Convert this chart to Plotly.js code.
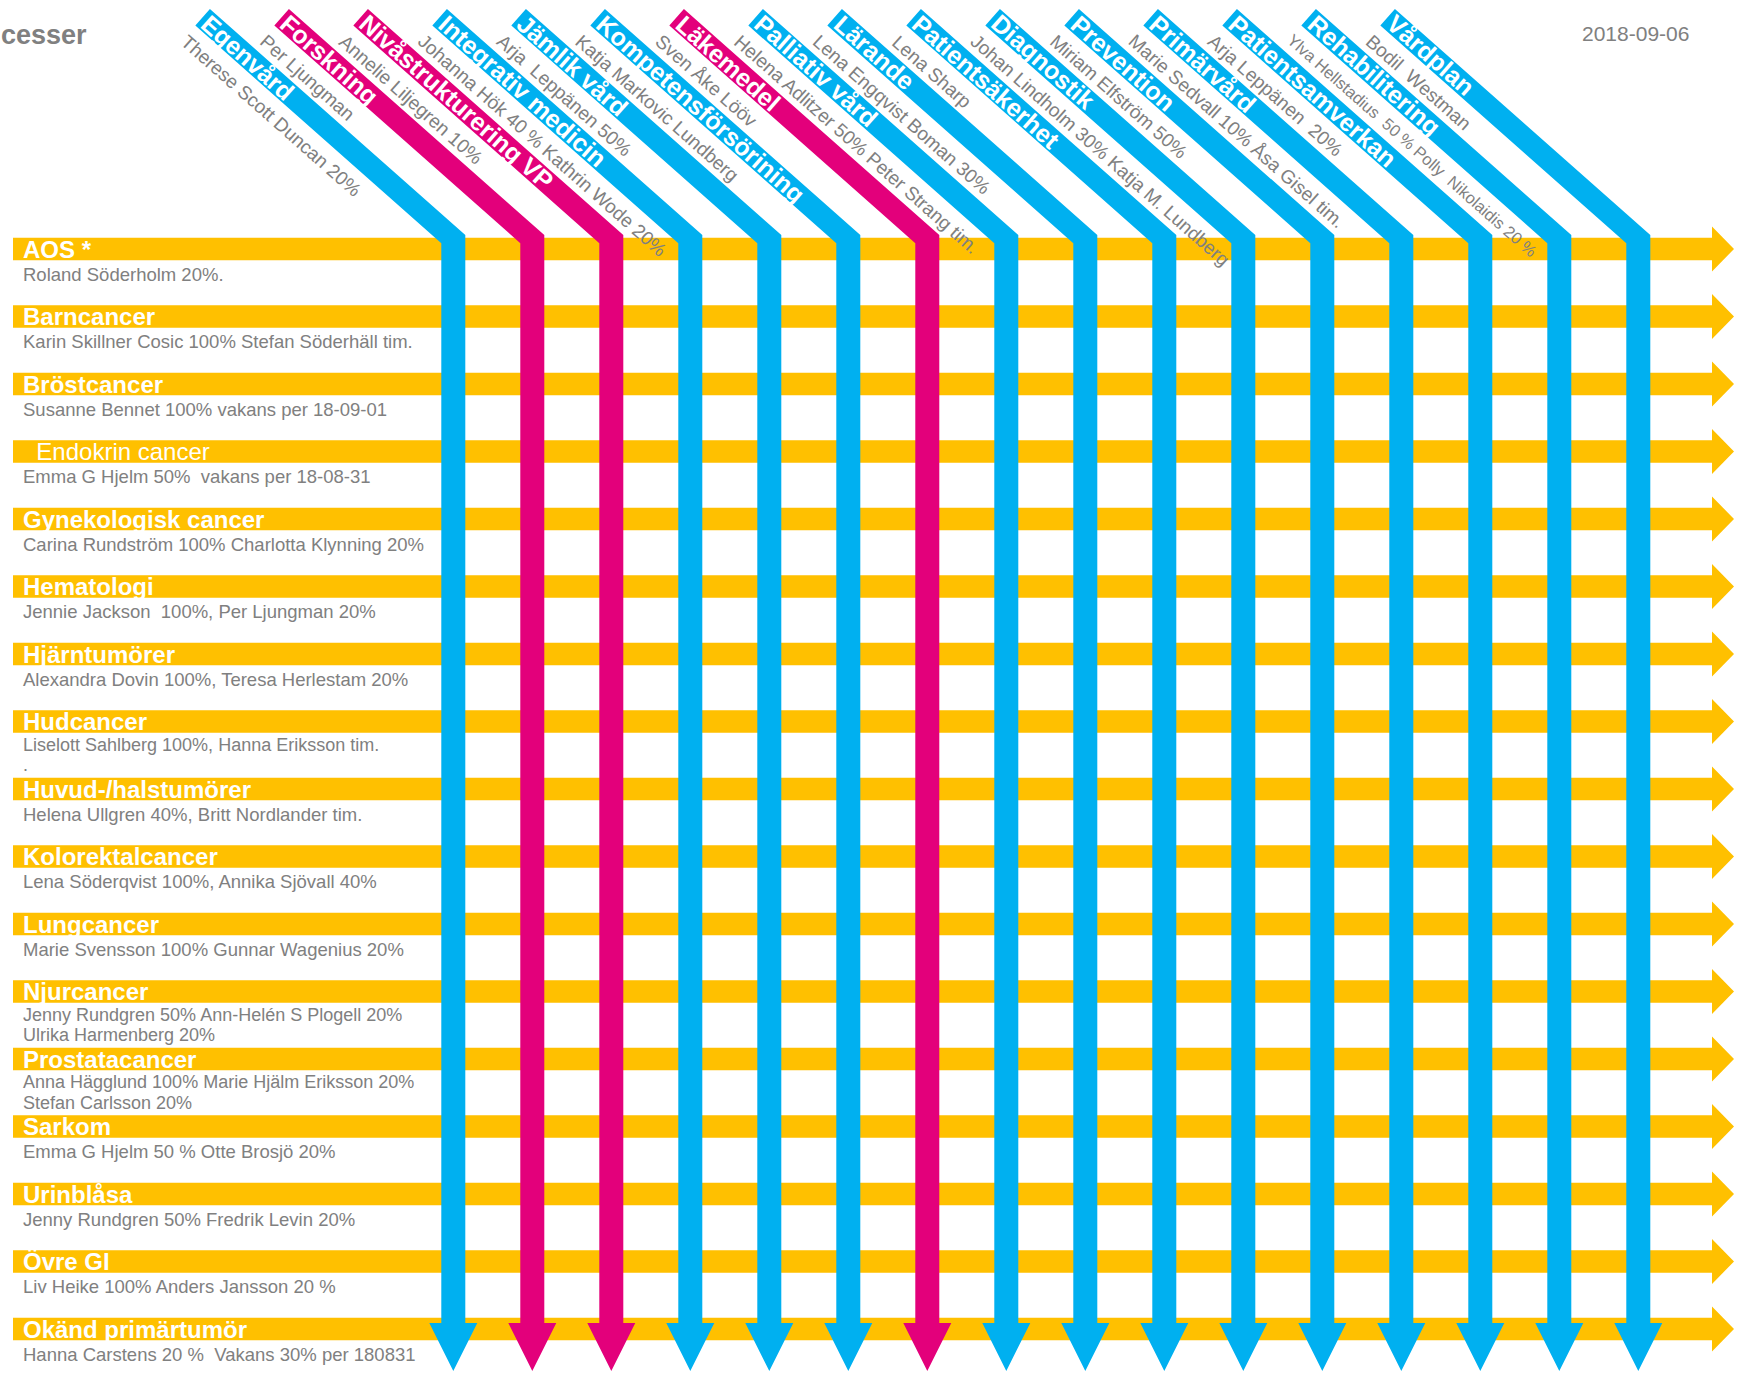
<!DOCTYPE html>
<html><head><meta charset="utf-8">
<script src="https://cdn.plot.ly/plotly-3.0.1.min.js"></script>
<style>html,body{margin:0;padding:0;background:#fff;overflow:hidden}</style>
</head><body><div id="chart"></div>
<script>
// ---------- DATA ----------
const rowNames = ["AOS *","Barncancer","Bröstcancer","\u00a0\u00a0Endokrin cancer","Gynekologisk cancer","Hematologi","Hjärntumörer","Hudcancer","Huvud-/halstumörer","Kolorektalcancer","Lungcancer","Njurcancer","Prostatacancer","Sarkom","Urinblåsa","Övre GI","Okänd primärtumör"];
const rowPeople = [
  ["Roland Söderholm 20%."],
  ["Karin Skillner Cosic 100% Stefan Söderhäll tim."],
  ["Susanne Bennet 100% vakans per 18-09-01"],
  ["Emma G Hjelm 50%\u00a0 vakans per 18-08-31"],
  ["Carina Rundström 100% Charlotta Klynning 20%"],
  ["Jennie Jackson\u00a0 100%, Per Ljungman 20%"],
  ["Alexandra Dovin 100%, Teresa Herlestam 20%"],
  ["Liselott Sahlberg 100%, Hanna Eriksson tim.", "."],
  ["Helena Ullgren 40%, Britt Nordlander tim."],
  ["Lena Söderqvist 100%, Annika Sjövall 40%"],
  ["Marie Svensson 100% Gunnar Wagenius 20%"],
  ["Jenny Rundgren 50% Ann-Helén S Plogell 20%", "Ulrika Harmenberg 20%"],
  ["Anna Hägglund 100% Marie Hjälm Eriksson 20%", "Stefan Carlsson 20%"],
  ["Emma G Hjelm 50 % Otte Brosjö 20%"],
  ["Jenny Rundgren 50% Fredrik Levin 20%"],
  ["Liv Heike 100% Anders Jansson 20 %"],
  ["Hanna Carstens 20 %\u00a0 Vakans 30% per 180831"]
];
const colNames = ["Egenvård","Forskning","Nivåstrukturering VP","Integrativ medicin","Jämlik vård","Kompetensförsörining","Läkemedel","Palliativ vård","Lärande","Patientsäkerhet","Diagnostik","Prevention","Primärvård","Patientsamverkan","Rehabilitering","Vårdplan"];
const colPeople = ["Therese Scott Duncan 20%","Per Ljungman","Annelie Liljegren 10%","Johanna Hök 40 % Kathrin Wode 20%","Arja\u00a0 Leppänen 50%","Katja Markovic Lundberg","Sven Åke Lööv","Helena Adlitzer 50% Peter Strang tim.","Lena Engqvist Boman 30%","Lena Sharp","Johan Lindholm 30% Katja M. Lundberg","Miriam Elfström 50%","Marie Sedvall 10% Åsa Gisel tim.","Arja Leppänen\u00a0 20%","Ylva Hellstadius\u00a0 50 % Polly\u00a0 Nikolaidis 20 %","Bodil\u00a0 Westman"];
const colKind = ["process","utveckling","utveckling","process","process","process","utveckling","process","process","process","process","process","process","process","process","process"];
const titleText = "cesser";
const dateText = "2018-09-06";

// ---------- STYLE / LAYOUT ----------
const W = 1739, H = 1375;
const X0 = 453.3, DX = 79;     // pixel of first column, pixels per column
const Y0 = 249, DY = 67.5;     // pixel of first row, pixels per row
const YELLOW = "#FFC000", GRAY = "#808080";
const kindColor = {process: "#00B0F0", utveckling: "#E3007B"};
const FONT = '"Liberation Sans", Arial, sans-serif';
const ox = p => p / DX, oy = p => p / DY;          // pixel offsets -> data units
const ax = p => (p - X0) / DX, ay = p => (p - Y0) / DY; // absolute pixel -> data
const TH = 41.5 * Math.PI / 180, C = Math.cos(TH), S = Math.sin(TH);
const Ld = 341, wd = 22, hv = 12;   // diagonal length, diagonal width, half vertical width

const cv = document.createElement('canvas').getContext('2d');
function tw(t, size, bold) { cv.font = (bold ? 'bold ' : '') + size + 'px "Liberation Sans"'; return cv.measureText(t).width; }

const shapes = [];
const annotations = [];
const lastRow = rowNames.length - 1;

// horizontal yellow arrows
rowNames.forEach((name, j) => {
  const L = ax(13), B = ax(1712), T = ax(1734), h = oy(11.25), hh = oy(22.5);
  shapes.push({type: 'path', xref: 'x', yref: 'y', layer: 'above',
    path: `M${L},${j-h} L${B},${j-h} L${B},${j-hh} L${T},${j} L${B},${j+hh} L${B},${j+h} L${L},${j+h} Z`,
    fillcolor: YELLOW, line: {width: 0}});
  annotations.push({x: ax(22), y: j, xref: 'x', yref: 'y', xanchor: 'left', yanchor: 'middle', showarrow: false,
    text: name, borderpad: 0, font: {family: FONT, size: 24, color: '#FFFFFF', weight: name.indexOf('Endokrin') >= 0 ? 400 : 700}});
  const multi = rowPeople[j].length > 1;
  rowPeople[j].forEach((line, k) => {
    const off = multi ? 23 + 20.5 * k : 25;
    annotations.push({x: ax(22), y: j + oy(off), xref: 'x', yref: 'y', xanchor: 'left', yanchor: 'middle', showarrow: false,
      text: line, borderpad: 0, font: {family: FONT, size: multi ? 18 : 18.5, color: GRAY}});
  });
});

// vertical process arrows with diagonal heads
colNames.forEach((name, i) => {
  const col = kindColor[colKind[i]];
  const yR = -14;
  const TR = [hv - Ld * C, yR - Ld * S];
  const TL = [TR[0] - wd * S, TR[1] + wd * C];
  const t = (-hv - TL[0]) / C;
  const inner = TL[1] + t * S;
  const base = oy(-6), tip = oy(42);
  const P = (px, py) => `${i + ox(px)},${py}`;
  const path = `M${P(TR[0], oy(TR[1]))} L${P(hv, oy(yR))} L${P(hv, lastRow + base)} L${P(24, lastRow + base)} ` +
    `L${P(0, lastRow + tip)} L${P(-24, lastRow + base)} L${P(-hv, lastRow + base)} L${P(-hv, oy(inner))} L${P(TL[0], oy(TL[1]))} Z`;
  shapes.push({type: 'path', xref: 'x', yref: 'y', layer: 'above', path: path, fillcolor: col, line: {width: 0}});

  // label on the bar
  const M = [TR[0] - (wd / 2) * S, TR[1] + (wd / 2) * C];
  const wl = tw(name, 25, true);
  const cl = [M[0] + C * (4 + wl / 2), M[1] + S * (4 + wl / 2)];
  annotations.push({x: i + ox(cl[0]), y: oy(cl[1]), xref: 'x', yref: 'y', xanchor: 'center', yanchor: 'middle',
    showarrow: false, textangle: 41.5, text: name, borderpad: 0,
    font: {family: FONT, size: 25, color: '#FFFFFF', weight: 700}});
  // person text beside the bar
  const ps = (i === 14) ? 16.5 : 19;
  const wg = tw(colPeople[i], ps, false);
  const perp = (i === 14) ? 27 : 28.5;
  const cg = [M[0] + C * (0 + wg / 2) - S * perp, M[1] + S * (0 + wg / 2) + C * perp];
  annotations.push({x: i + ox(cg[0]), y: oy(cg[1]), xref: 'x', yref: 'y', xanchor: 'center', yanchor: 'middle',
    showarrow: false, textangle: 41.5, text: colPeople[i], borderpad: 0,
    font: {family: FONT, size: ps, color: GRAY}});
});

annotations.push({x: 0, y: 1 - 35 / H, xref: 'paper', yref: 'paper', xanchor: 'left', yanchor: 'middle', showarrow: false,
  text: titleText, borderpad: 0, font: {family: FONT, size: 27, color: GRAY, weight: 700}});
annotations.push({x: 1581 / W, y: 1 - 33 / H, xref: 'paper', yref: 'paper', xanchor: 'left', yanchor: 'middle', showarrow: false,
  text: dateText, borderpad: 0, font: {family: FONT, size: 21, color: GRAY}});

const layout = {
  width: W, height: H, margin: {l: 0, r: 0, t: 0, b: 0, pad: 0},
  paper_bgcolor: '#FFFFFF', plot_bgcolor: '#FFFFFF', showlegend: false,
  xaxis: {range: [ax(0), ax(W)], visible: false, fixedrange: true},
  yaxis: {range: [ay(H), ay(0)], visible: false, fixedrange: true},
  shapes: shapes, annotations: annotations
};
Plotly.newPlot('chart', [{type: 'scatter', x: [], y: [], hoverinfo: 'skip'}], layout, {staticPlot: true, displayModeBar: false});
</script>
</body></html>
